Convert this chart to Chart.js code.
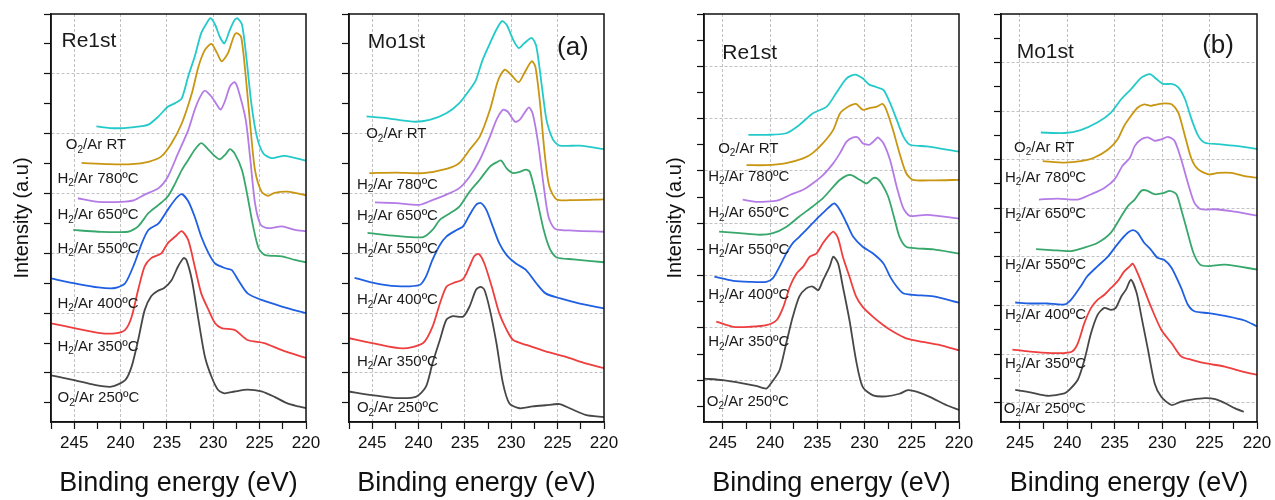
<!DOCTYPE html>
<html>
<head>
<meta charset="utf-8">
<script src="https://cdn.jsdelivr.net/npm/chart.js@4.4.0/dist/chart.umd.min.js"></script>
<style>
  html, body { margin: 0; padding: 0; background: #fff; }
  #wrap { position: relative; width: 1275px; height: 500px; overflow: hidden; }
  canvas { position: absolute; top: 0; }
</style>
</head>
<body>
<div id="wrap">
  <canvas id="c1" width="330" height="500" style="left:0px"></canvas>
  <canvas id="c2" width="290" height="500" style="left:330px"></canvas>
  <canvas id="c3" width="335" height="500" style="left:640px"></canvas>
  <canvas id="c4" width="300" height="500" style="left:975px"></canvas>
</div>
<script>
const FONT = "'Liberation Sans', Arial, sans-serif";

const seriesNames = ['O₂/Ar 250ºC', 'H₂/Ar 350ºC', 'H₂/Ar 400ºC', 'H₂/Ar 550ºC', 'H₂/Ar 650ºC', 'H₂/Ar 780ºC', 'O₂/Ar RT'];
const seriesColors = ['#474747', '#ef3e3e', '#1f5fe2', '#37a76b', '#b47be6', '#c99612', '#24cac9'];
const xTickLabels = [245, 240, 235, 230, 225, 220];

// Re1st, panel (a) : [binding energy, intensity], one list per series
const reA = [
  [[247.5,-4],[245,-12],[242.8,-20],[241,-23],[239.5,-12],[238.8,11],[238.1,55],[237.4,105],[236.7,128],[236,137],[235.3,142],[234.5,155],[233.8,178],[233.2,192],[232.9,189],[232.3,155],[231.6,89],[230.9,27],[230.2,-6],[229.5,-28],[228.8,-34],[227.7,-31],[226.3,-28],[224.8,-31],[223.4,-40],[222,-51],[220.8,-56],[220,-59]],
  [[247.5,83],[245,75],[242.4,67],[240.6,66],[239.5,72],[238.8,94],[238.1,139],[237.4,178],[236.7,192],[235.6,200],[234.9,217],[234.1,228],[233.4,237],[232.7,222],[232,178],[231.3,133],[230.5,105],[229.8,83],[229.1,75],[227.7,72],[226.3,55],[224.5,50],[222.6,38],[220,25]],
  [[247.5,158],[245,150],[242.4,143],[240.6,142],[239.5,150],[238.5,183],[237.7,217],[237,239],[235.9,250],[234.9,273],[234,292],[233.4,299],[232.7,287],[232,261],[231.3,228],[230.5,200],[229.8,183],[228.7,175],[228,172],[227.3,155],[226.3,133],[224.8,122],[222.6,111],[220,100]],
  [[245.1,239],[242.4,236],[239.2,236],[238.1,245],[237,267],[235.9,281],[234.9,295],[234.1,317],[233.4,339],[232.7,356],[232,373],[231.3,384],[230.5,373],[229.8,362],[229.3,357],[228.7,365],[228.2,374],[227.7,367],[226.9,339],[226.3,295],[225.7,245],[225.1,208],[224.4,197],[222.6,195],[221.2,189],[220,185]],
  [[244.6,292],[242.4,286],[239.9,286],[238.5,289],[237.4,298],[235.9,309],[234.9,328],[233.8,367],[232.7,406],[232,440],[231.4,462],[230.9,472],[230.2,462],[229.6,448],[229.2,440],[228.7,456],[228.2,479],[227.7,486],[227.3,473],[226.5,423],[226,356],[225.5,284],[224.9,248],[224.1,242],[222.6,245],[221.2,239],[220,237]],
  [[244.2,351],[241.3,349],[238.8,349],[237,353],[235.6,362],[234.5,384],[233.4,417],[232.3,468],[231.6,512],[230.9,540],[230.2,550],[229.6,535],[229.1,521],[228.4,535],[227.8,562],[227.5,568],[227,562],[226.5,496],[226,412],[225.5,339],[224.8,303],[224.1,296],[223.4,301],[222,303],[220,297]],
  [[242.6,412],[240.6,409],[238.5,411],[237,415],[235.9,429],[234.9,445],[234.1,451],[233.4,459],[232.7,496],[232,529],[231.3,568],[230.7,585],[230.3,593],[229.8,582],[229.3,562],[228.8,551],[228.2,574],[227.7,590],[227.4,593],[226.9,582],[226.4,523],[225.9,451],[225.3,395],[224.6,367],[223.7,359],[222.3,363],[220,355]]
];

// Mo1st, panel (a)
const moA = [
  [[247.5,-31],[245,-37],[242.4,-42],[240.3,-40],[239.2,-23],[238.5,16],[237.7,55],[237,89],[236.3,95],[235.2,94],[234.5,111],[233.8,139],[233.3,144],[232.9,139],[232.3,105],[231.6,50],[230.9,-17],[230.2,-51],[229.1,-59],[227.7,-56],[226.3,-54],[224.8,-52],[223.7,-59],[222,-70],[220,-74]],
  [[247.5,58],[245,50],[241.7,41],[239.5,50],[238.5,77],[237.7,116],[237,144],[236.3,150],[235.2,157],[234.5,178],[234,195],[233.5,199],[232.9,183],[232.1,144],[231.3,100],[230.5,72],[229.8,55],[228.4,47],[226.3,36],[224.1,27],[222,16],[220,8]],
  [[246.9,159],[245,151],[242.4,145],[239.9,147],[239.2,161],[238.5,189],[237.7,214],[237,228],[235.9,239],[235.2,245],[234.5,264],[233.8,281],[233.3,284],[232.7,273],[232,245],[231.3,217],[230.5,197],[229.5,183],[228.4,172],[227.3,150],[226.3,133],[224.8,125],[222.6,116],[220,108]],
  [[245.5,234],[242.4,229],[239.5,227],[238.5,239],[237.7,256],[236.6,267],[235.6,278],[234.5,303],[233.4,323],[232.3,345],[231.6,352],[231.1,355],[230.5,342],[229.8,334],[229.1,336],[228.4,340],[228,336],[227.3,295],[226.5,239],[225.8,206],[225.1,193],[223.3,190],[220,185]],
  [[244.7,285],[242.4,284],[239.9,281],[238.5,289],[237,298],[235.6,309],[234.5,328],[233.4,356],[232.3,395],[231.6,423],[230.9,440],[230.4,437],[229.6,420],[229.1,423],[228.6,434],[228.1,444],[227.7,434],[227.1,384],[226.5,312],[226,262],[225.3,241],[223.3,238],[220,236]],
  [[245.3,334],[242.4,335],[239.5,334],[237,341],[235.6,351],[234.5,373],[233.4,395],[232.3,440],[231.4,490],[230.7,507],[230,498],[229.2,486],[228.6,501],[227.8,521],[227.4,512],[226.9,451],[226.4,367],[225.9,312],[225.1,290],[223.3,289],[220,290]],
  [[245.6,429],[243.5,426],[240.6,420],[238.8,423],[237,434],[235.6,451],[234.5,473],[233.8,490],[233.1,523],[232.3,551],[231.6,574],[231,588],[230.5,582],[229.8,557],[229.2,543],[228.6,551],[227.8,560],[227.3,546],[226.7,479],[226.2,423],[225.5,390],[224.8,380],[222.6,380],[220,374]]
];

// Re1st, panel (b)
const reB = [
  [[247,3],[245,0],[242.9,-6],[241.5,-11],[240.4,-16],[239.9,-6],[239,19],[238.3,70],[237.6,121],[236.9,160],[236.2,175],[235.5,179],[234.9,172],[234.4,191],[233.7,217],[233.3,236],[232.8,223],[232.3,179],[231.6,115],[230.9,38],[230.2,-13],[229.1,-29],[227.7,-31],[226.3,-26],[225.4,-19],[224.5,-22],[223.1,-32],[221.3,-48],[220,-57]],
  [[245.7,112],[243.9,102],[242.2,102],[240.4,105],[239.3,115],[238.6,140],[237.9,179],[237.2,204],[236.5,217],[235.8,236],[235.1,242],[234.4,262],[233.9,274],[233.3,284],[232.8,271],[232.3,236],[231.6,198],[230.9,160],[230.2,140],[229.1,121],[228,105],[227,93],[225.6,80],[223.8,73],[222,67],[220,57]],
  [[245.9,198],[243.9,190],[242.2,188],[240.4,188],[239.7,195],[239,217],[238.3,242],[237.6,262],[236.9,274],[236.2,287],[235.5,300],[234.8,313],[234.1,325],[233.5,335],[233.2,338],[232.6,325],[231.9,300],[231.2,274],[230.2,255],[229.1,242],[228,223],[227.3,198],[226.6,179],[225.9,166],[224.9,163],[222.7,160],[220,148]],
  [[245.4,284],[243.2,281],[241.1,278],[239.7,281],[238.3,293],[236.9,313],[235.5,332],[234.4,348],[233.3,370],[232.6,383],[231.9,391],[231.4,392],[230.5,383],[229.8,376],[229.1,386],[228.7,386],[228.2,376],[227.5,351],[226.8,306],[226.3,274],[225.6,255],[224.5,252],[222.7,250],[220,242]],
  [[242.9,345],[241.5,341],[239.3,343],[237.9,354],[236.5,364],[235.5,376],[234.4,392],[233.3,415],[232.6,434],[231.9,456],[231.2,464],[230.7,464],[230.2,453],[229.5,450],[228.9,459],[228.6,464],[228,453],[227.3,421],[226.6,370],[225.9,329],[225.2,314],[223.4,316],[220,309]],
  [[242.5,411],[240.4,411],[238.3,415],[236.5,424],[235.5,434],[234.4,453],[233.3,479],[232.6,510],[231.7,523],[230.9,528],[230.2,517],[229.5,520],[228.7,523],[228.1,528],[227.7,517],[227,479],[226.3,434],[225.6,396],[224.9,383],[222.7,382],[220,383]],
  [[242.3,469],[240.4,469],[238.3,472],[236.9,488],[235.5,510],[234,523],[233,549],[231.9,577],[231,584],[230.2,577],[229.5,565],[228.7,560],[228,555],[227.3,530],[226.6,498],[225.9,466],[225.2,450],[223.4,447],[220,437]]
];

// Mo1st, panel (b)
const moB = [
  [[245.5,26],[243.9,21],[242.1,14],[240.3,19],[239.8,26],[238.9,47],[238.2,88],[237.5,143],[236.8,181],[236.1,195],[235.4,191],[234.9,195],[234.3,219],[233.8,233],[233.3,253],[232.7,226],[232.2,178],[231.5,109],[230.8,40],[230.1,12],[229,-5],[228,2],[226.9,6],[225.5,9],[224.4,7],[223.4,-1],[222.3,-12],[221.4,-19]],
  [[245.8,109],[243.9,105],[241.7,102],[240.3,102],[239.5,105],[238.9,122],[238.2,164],[237.5,195],[236.8,212],[236.1,222],[235.4,236],[234.7,250],[234,270],[233.4,281],[233.1,286],[232.6,267],[231.9,233],[231.2,198],[230.1,150],[229,122],[228,95],[226.9,88],[225.5,81],[223.4,74],[221.6,64],[220,57]],
  [[245.5,206],[243.9,204],[242.1,204],[240.3,202],[239.6,212],[238.6,239],[237.9,260],[236.8,281],[235.7,301],[235,319],[234.3,336],[233.6,350],[233.1,355],[232.6,350],[231.9,329],[231.2,315],[230.5,298],[229.8,294],[229,277],[228,236],[227.3,202],[226.6,188],[225.1,184],[223,177],[221.3,169],[220,157]],
  [[243.3,316],[241.7,314],[239.6,312],[238.2,319],[236.8,329],[235.4,350],[234.3,384],[233.6,405],[232.9,418],[232.2,436],[231.7,437],[230.8,429],[229.9,431],[229.2,436],[228.5,429],[228,398],[227.4,356],[226.7,308],[226,284],[225.1,281],[223.4,284],[220,274]],
  [[243,418],[241,420],[238.9,418],[237.5,429],[236.1,442],[235,460],[234.2,487],[233.4,504],[232.9,528],[232.2,542],[231.5,546],[230.8,539],[230.1,542],[229.4,547],[228.7,539],[228,501],[227.3,453],[226.6,411],[225.9,398],[224.4,398],[222.7,394],[220,385]],
  [[242.6,497],[240.3,494],[238.6,497],[237.2,504],[235.7,521],[234.7,542],[234,570],[233.3,590],[232.6,607],[231.9,614],[231.2,611],[230.5,614],[229.7,616],[229,614],[228.3,597],[227.6,549],[226.9,501],[226.2,480],[225.1,470],[224.1,473],[222.7,473],[221.3,466],[220,463]],
  [[242.8,556],[240.3,555],[238.6,561],[236.8,577],[235.4,597],[234.3,625],[233.3,645],[232.2,669],[231.3,676],[230.6,666],[229.9,656],[229,656],[228.3,649],[227.6,625],[226.9,583],[226.2,549],[225.5,535],[224.1,532],[222,528],[220,522]]
];

// where each series name sits, in data coordinates (same order as seriesNames)
const reALabelAt = [[246.8,-42],[246.8,44],[246.8,116],[246.8,208],[246.8,264],[246.8,325],[245.9,381]];
const moALabelAt = [[246.65,-59],[246.65,19],[246.65,122],[246.65,207],[246.65,263],[246.65,315],[245.65,399]];
const reBLabelAt = [[246.7,-41],[246.55,73],[246.55,163],[246.55,250],[246.55,319],[246.55,389],[245.5,443]];
const moBLabelAt = [[246.7,-12],[246.58,79],[246.58,181],[246.58,284],[246.58,389],[246.58,463],[245.62,525]];

// draws "X₂/..." with a real lowered 2
function drawLabel(ctx, text, px, py) {
  const parts = text.split('₂');
  ctx.font = '15px ' + FONT;
  ctx.fillText(parts[0], px, py);
  let w = ctx.measureText(parts[0]).width;
  ctx.font = '10px ' + FONT;
  ctx.fillText('2', px + w, py + 5);
  w += ctx.measureText('2').width;
  ctx.font = '15px ' + FONT;
  ctx.fillText(parts[1], px + w, py);
}

const panelText = {
  id: 'panelText',
  afterDraw(chart, args, o) {
    const {ctx, chartArea: a, scales: {x, y}} = chart;
    ctx.save();
    ctx.strokeStyle = '#111';
    ctx.lineWidth = 1.5;
    ctx.strokeRect(a.left, a.top, a.right - a.left, a.bottom - a.top);
    ctx.fillStyle = '#1a1a1a';
    ctx.textAlign = 'left';
    ctx.textBaseline = 'middle';
    o.labels.forEach((p, i) => drawLabel(ctx, seriesNames[i], x.getPixelForValue(p[0]), y.getPixelForValue(p[1])));
    ctx.font = '21px ' + FONT;
    ctx.fillText(o.name, x.getPixelForValue(o.nameAt[0]), y.getPixelForValue(o.nameAt[1]));
    if (o.tag) {
      ctx.font = '26px ' + FONT;
      ctx.fillText(o.tag, x.getPixelForValue(o.tagAt[0]), y.getPixelForValue(o.tagAt[1]));
    }
    ctx.restore();
  }
};

Chart.defaults.font.family = FONT;
Chart.defaults.color = '#111';

const clear = 'rgba(0,0,0,0)';
const gridGray = '#c2c2c2';

function makePanel(id, curves, o) {
  return new Chart(document.getElementById(id), {
    type: 'line',
    data: {
      datasets: curves.map((pts, i) => ({
        label: seriesNames[i],
        data: pts,
        borderColor: seriesColors[i],
        borderWidth: 1.8,
        pointRadius: 0,
        tension: 0.25,
        fill: false
      }))
    },
    options: {
      responsive: false,
      animation: false,
      devicePixelRatio: 1,
      layout: { padding: { top: 14, right: o.padRight, bottom: 0, left: 0 } },
      plugins: {
        legend: { display: false },
        tooltip: { enabled: false },
        panelText: o.text
      },
      scales: {
        x: {
          type: 'linear',
          reverse: true,
          bounds: 'data',
          min: 220,
          max: o.eMax,
          afterBuildTicks: s => {
            s.ticks = [];
            for (let v = 220; v <= o.eMax + 1e-9; v += 2.5) s.ticks.push({ value: v });
          },
          afterFit: s => { s.height = 78; },
          ticks: {
            autoSkip: false,
            maxRotation: 0,
            padding: 4,
            font: { size: 17 },
            callback: v => xTickLabels.includes(v) ? String(v) : ''
          },
          grid: {
            color: c => (c.tick && c.tick.value % 5 === 0 && c.tick.value > 220) ? gridGray : clear,
            tickColor: '#111',
            tickLength: 7,
            tickWidth: 1.2
          },
          border: { color: '#111', width: 1.5, dash: [3, 2] },
          title: { display: true, text: 'Binding energy (eV)', font: { size: 27 }, padding: { top: 0, bottom: 0 } }
        },
        y: {
          type: 'linear',
          bounds: 'data',
          min: o.vMin,
          max: o.vMax,
          afterBuildTicks: s => {
            s.ticks = [];
            for (let v = Math.ceil(o.vMin / 50) * 50; v <= o.vMax; v += 50) s.ticks.push({ value: v });
          },
          afterFit: s => { s.width = o.axisW; },
          ticks: { display: false },
          grid: {
            color: c => (c.tick && c.tick.value % 100 === 0 && c.tick.value < o.vMax) ? gridGray : clear,
            tickColor: '#111',
            tickLength: 7,
            tickWidth: 1.2
          },
          border: { color: '#111', width: 1.5, dash: [3, 2] },
          title: {
            display: !!o.yTitle,
            text: 'Intensity (a.u)',
            font: { size: 20 },
            padding: { top: o.yTitlePad || 0, bottom: 0 }
          }
        }
      }
    },
    plugins: [panelText]
  });
}

makePanel('c1', reA, {
  padRight: 24, axisW: 51, eMax: 247.5, vMin: -82, vMax: 600, yTitle: true, yTitlePad: 10,
  text: { labels: reALabelAt, name: 'Re1st', nameAt: [246.37, 554] }
});
makePanel('c2', moA, {
  padRight: 16, axisW: 19, eMax: 247.5, vMin: -82, vMax: 600,
  text: { labels: moALabelAt, name: 'Mo1st', nameAt: [245.47, 553], tag: '(a)', tagAt: [225.07, 543] }
});
makePanel('c3', reB, {
  padRight: 16, axisW: 64, eMax: 247, vMin: -80, vMax: 700, yTitle: true, yTitlePad: 23,
  text: { labels: reBLabelAt, name: 'Re1st', nameAt: [245.07, 625] }
});
makePanel('c4', moB, {
  padRight: 18, axisW: 26, eMax: 247, vMin: -40, vMax: 800,
  text: { labels: moBLabelAt, name: 'Mo1st', nameAt: [245.35, 721], tag: '(b)', tagAt: [225.78, 735] }
});
</script>
</body>
</html>
